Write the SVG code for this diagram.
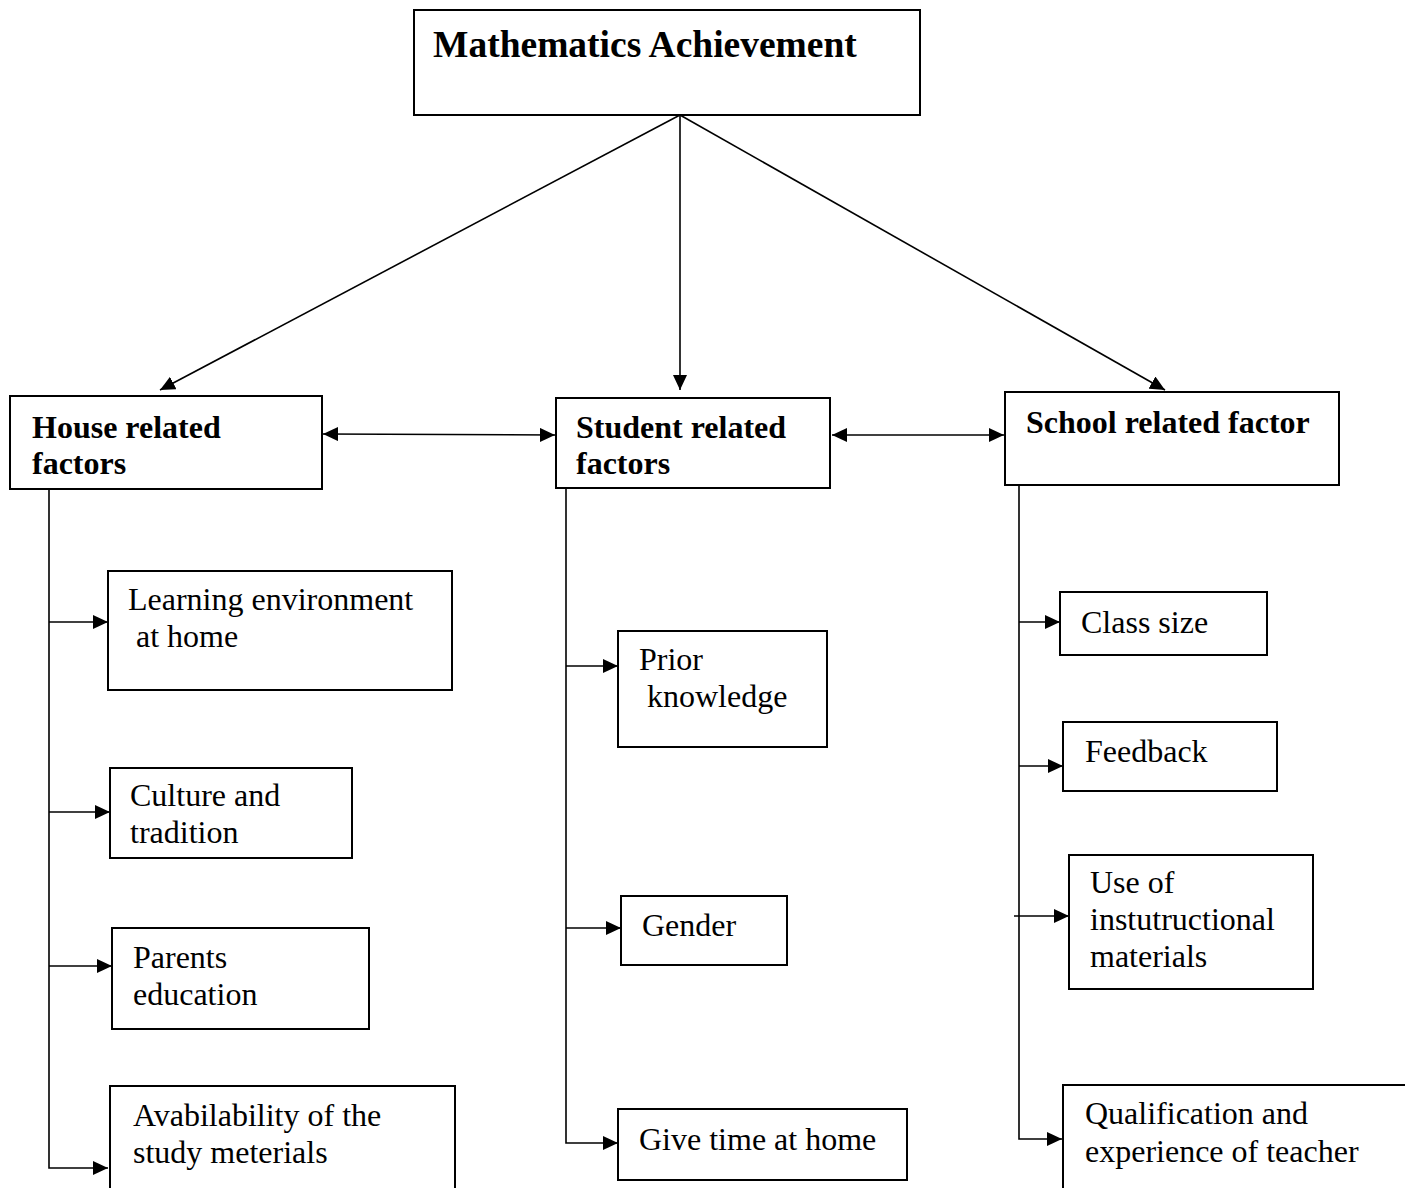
<svg xmlns="http://www.w3.org/2000/svg" width="1405" height="1188" viewBox="0 0 1405 1188">
<style>
.box{fill:#fff;stroke:#000;stroke-width:2}
.t{font-family:"Liberation Serif","Times New Roman",serif;font-size:32px;fill:#000}
.b{font-weight:bold}
.c{fill:none;stroke:#000;stroke-width:1.6}
</style>
<defs>
<marker id="ah" viewBox="0 0 15 14" refX="15" refY="7" markerWidth="15" markerHeight="14" markerUnits="userSpaceOnUse" orient="auto-start-reverse">
<path d="M0,0 L15,7 L0,14 Z" fill="#000"/>
</marker>
</defs>
<rect width="1405" height="1188" fill="#fff"/>
<g id="connectors">
<line class="c" x1="680" y1="115" x2="160" y2="390" marker-end="url(#ah)"/>
<line class="c" x1="680" y1="115" x2="680" y2="390" marker-end="url(#ah)"/>
<line class="c" x1="680" y1="115" x2="1165" y2="390" marker-end="url(#ah)"/>
<line class="c" x1="323" y1="434" x2="555" y2="435" marker-start="url(#ah)" marker-end="url(#ah)"/>
<line class="c" x1="832" y1="435" x2="1004" y2="435" marker-start="url(#ah)" marker-end="url(#ah)"/>
<polyline class="c" points="49,489 49,1168 108,1168" marker-end="url(#ah)"/>
<line class="c" x1="49" y1="622" x2="108" y2="622" marker-end="url(#ah)"/>
<line class="c" x1="49" y1="812" x2="110" y2="812" marker-end="url(#ah)"/>
<line class="c" x1="49" y1="966" x2="112" y2="966" marker-end="url(#ah)"/>
<polyline class="c" points="566,488 566,1143 618,1143" marker-end="url(#ah)"/>
<line class="c" x1="566" y1="666" x2="618" y2="666" marker-end="url(#ah)"/>
<line class="c" x1="566" y1="928" x2="621" y2="928" marker-end="url(#ah)"/>
<polyline class="c" points="1019,485 1019,1139 1062,1139" marker-end="url(#ah)"/>
<line class="c" x1="1019" y1="622" x2="1060" y2="622" marker-end="url(#ah)"/>
<line class="c" x1="1019" y1="766" x2="1063" y2="766" marker-end="url(#ah)"/>
<line class="c" x1="1014" y1="916" x2="1069" y2="916" marker-end="url(#ah)"/>
</g>
<g id="math">
<rect class="box" x="414" y="10" width="506" height="105"/>
<text class="t b" x="433" y="57" style="font-size:37.5px">Mathematics Achievement</text>
</g>
<g id="house">
<rect class="box" x="10" y="396" width="312" height="93"/>
<text class="t b" x="32" y="438">House related</text>
<text class="t b" x="32" y="474">factors</text>
</g>
<g id="student">
<rect class="box" x="556" y="398" width="274" height="90"/>
<text class="t b" x="576" y="438">Student related</text>
<text class="t b" x="576" y="474">factors</text>
</g>
<g id="school">
<rect class="box" x="1005" y="392" width="334" height="93"/>
<text class="t b" x="1026" y="433">School related factor</text>
</g>
<g id="learning">
<rect class="box" x="108" y="571" width="344" height="119"/>
<text class="t" x="128" y="610">Learning environment</text>
<text class="t" x="136" y="647">at home</text>
</g>
<g id="culture">
<rect class="box" x="110" y="768" width="242" height="90"/>
<text class="t" x="130" y="806">Culture and</text>
<text class="t" x="130" y="843">tradition</text>
</g>
<g id="parents">
<rect class="box" x="112" y="928" width="257" height="101"/>
<text class="t" x="133" y="968">Parents</text>
<text class="t" x="133" y="1005">education</text>
</g>
<g id="avail">
<rect class="box" x="110" y="1086" width="345" height="120"/>
<text class="t" x="133" y="1126">Avabilability of the</text>
<text class="t" x="133" y="1163">study meterials</text>
</g>
<g id="prior">
<rect class="box" x="618" y="631" width="209" height="116"/>
<text class="t" x="639" y="670">Prior</text>
<text class="t" x="647" y="707">knowledge</text>
</g>
<g id="gender">
<rect class="box" x="621" y="896" width="166" height="69"/>
<text class="t" x="642" y="936">Gender</text>
</g>
<g id="givetime">
<rect class="box" x="618" y="1109" width="289" height="71"/>
<text class="t" x="639" y="1150">Give time at home</text>
</g>
<g id="classsize">
<rect class="box" x="1060" y="592" width="207" height="63"/>
<text class="t" x="1081" y="633">Class size</text>
</g>
<g id="feedback">
<rect class="box" x="1063" y="722" width="214" height="69"/>
<text class="t" x="1085" y="762">Feedback</text>
</g>
<g id="useof">
<rect class="box" x="1069" y="855" width="244" height="134"/>
<text class="t" x="1090" y="893">Use of</text>
<text class="t" x="1090" y="930">instutructional</text>
<text class="t" x="1090" y="967">materials</text>
</g>
<g id="qualification">
<rect class="box" x="1063" y="1085" width="360" height="120"/>
<text class="t" x="1085" y="1124">Qualification and</text>
<text class="t" x="1085" y="1162">experience of teacher</text>
</g>
</svg>
